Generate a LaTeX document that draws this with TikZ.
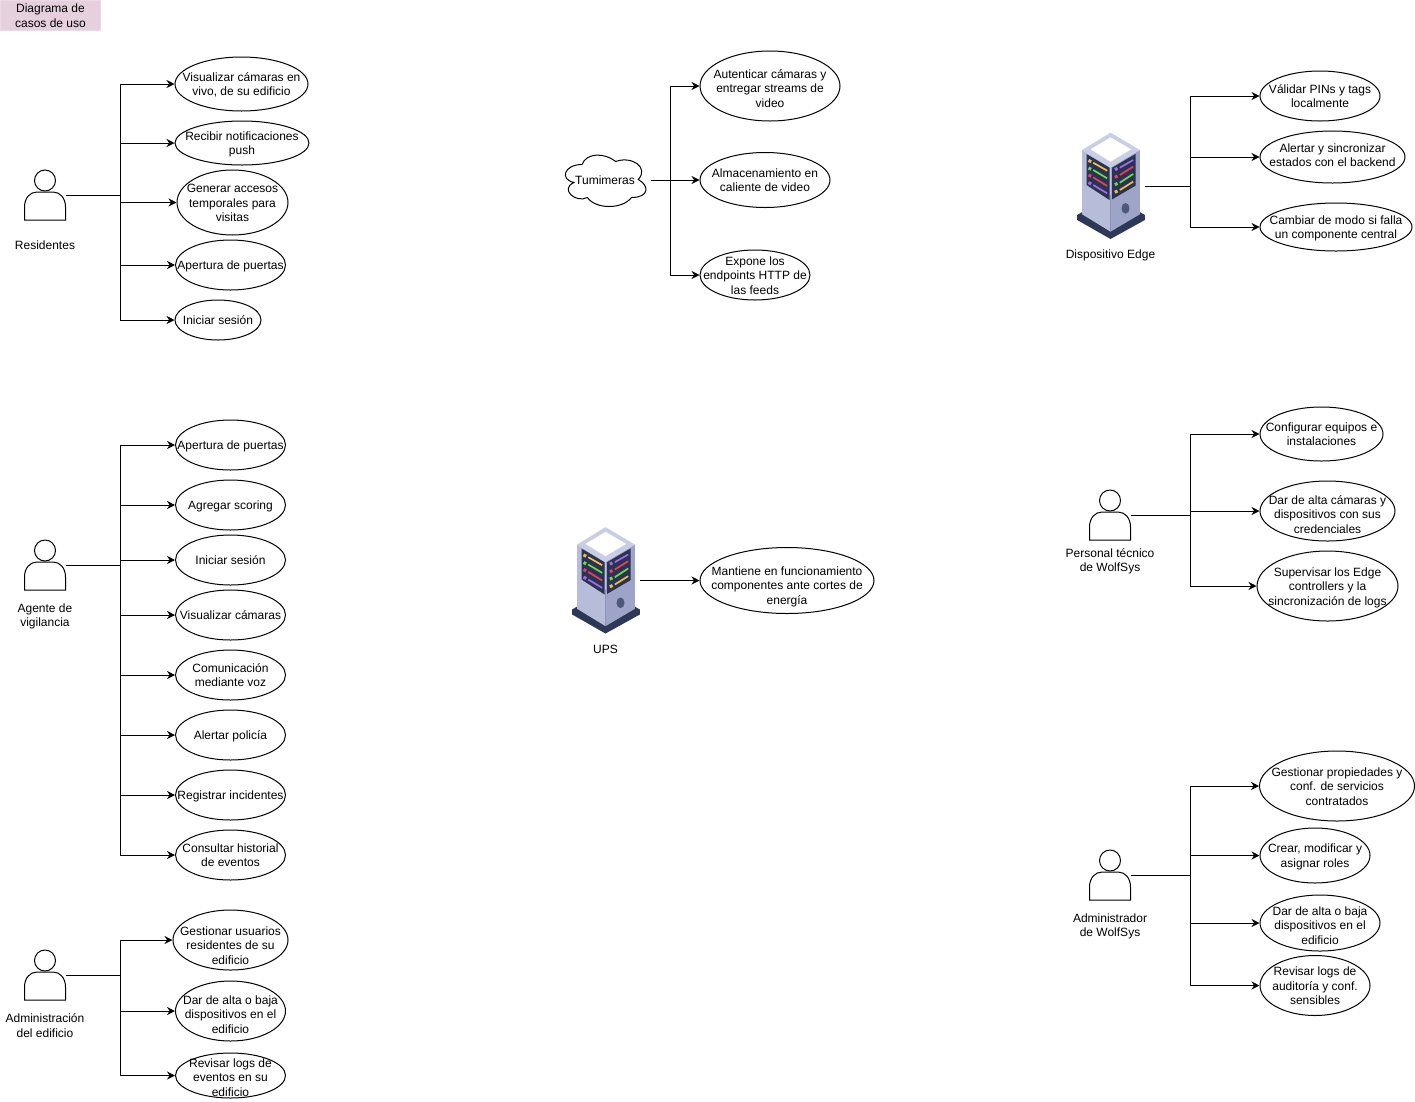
\documentclass[tikz,border=0pt]{standalone}
\usepackage{fontspec}
\setmainfont{Liberation Sans}
\usetikzlibrary{shapes.geometric,arrows.meta}

\definecolor{titlefill}{HTML}{E6D0DE}
\definecolor{basedark}{HTML}{2C3855}
\definecolor{faceleft}{HTML}{B7BCD9}
\definecolor{faceright}{HTML}{9DA4C8}
\definecolor{facetop}{HTML}{C9CEE4}
\definecolor{panel}{HTML}{2A3352}
\definecolor{stripyellow}{HTML}{F4BE45}
\definecolor{stripgreen}{HTML}{6FD94A}
\definecolor{stripred}{HTML}{E8415F}
\definecolor{strippurple}{HTML}{A36CE6}

\tikzstyle{usecase} = [ellipse, draw=black, fill=white, inner sep=-80pt, align=center, text depth=2.5pt, font=\fontsize{12}{14.5}\selectfont]
\tikzstyle{oneline} = [text height=11.5pt]
\tikzstyle{twolines} = [text height=26pt]
\tikzstyle{threelines} = [text height=40.5pt]
\tikzstyle{caption} = [align=center, inner sep=0pt, font=\fontsize{12}{14.5}\selectfont]
\tikzstyle{titlebox} = [rectangle, minimum width=100pt, minimum height=30pt, inner sep=0pt, align=center, draw=titlefill!80!white, fill=titlefill, font=\fontsize{12}{14.5}\selectfont]
\tikzstyle{actorbox} = [rectangle, minimum width=41pt, minimum height=50pt, inner sep=0pt]
\tikzstyle{iconbox} = [rectangle, minimum width=68pt, minimum height=106pt, inner sep=0pt]
\tikzstyle{cloudbox} = [rectangle, minimum width=90pt, minimum height=60pt, inner sep=0pt, font=\fontsize{12}{14.5}\selectfont]
\tikzstyle{arrow} = [->,>={Stealth[length=8pt,width=8pt]}]
\tikzstyle{strip} = [line width=1.7pt]
\tikzstyle{bullet} = [line width=3pt]

\tikzset{
	actorman/.pic={
		\draw [black, fill=white] (-20.5,25) -- (-20.5,12) .. controls (-20.5,3) and (-15,-3) .. (-8,-3) -- (8,-3) .. controls (15,-3) and (20.5,3) .. (20.5,12) -- (20.5,25) -- cycle;
		\draw [black, fill=white] (0,-14.5) circle [radius=10.5];
	},
	servericon/.pic={
		\begin{scope}[x=0.3333pt,y=-0.3333pt]
		\fill [basedark] (-100,87) -- (0,27) -- (103,87) -- (103,102) -- (0,159) -- (-100,102) -- cycle;
		\fill [faceleft] (-85,-108) -- (0,-56) -- (0,137) -- (-85,85) -- cycle;
		\fill [faceright] (0,-56) -- (88,-108) -- (88,85) -- (0,137) -- cycle;
		\fill [facetop] (0,-160) -- (88,-108) -- (0,-56) -- (-85,-108) -- cycle;
		\fill [white] (0,-146) -- (62,-110) -- (0,-73) -- (-60,-110) -- cycle;
		\fill [panel] (-72,-96) -- (-3,-55) -- (-3,42) -- (-72,-3) -- cycle;
		\fill [panel] (5,-55) -- (75,-96) -- (75,-1) -- (5,40) -- cycle;
		\fill [basedark!70!faceright] (45,67) ellipse [x radius=12, y radius=16];
		\draw [strip, stripyellow] (-52,-70) -- (-10,-46);
		\draw [strip, stripgreen] (-52,-48) -- (-10,-23);
		\draw [strip, stripred] (-52,-26) -- (-10,0);
		\draw [strip, strippurple] (-52,-3) -- (-10,22);
		\draw [bullet, stripyellow] (-66,-77) -- (-58,-73);
		\draw [bullet, stripgreen] (-66,-54) -- (-58,-50);
		\draw [bullet, stripred] (-66,-33) -- (-58,-29);
		\draw [bullet, strippurple] (-66,-10) -- (-58,-6);
		\draw [strip, strippurple] (28,-55) -- (68,-78);
		\draw [strip, stripred] (28,-33) -- (68,-58);
		\draw [strip, stripgreen] (28,-10) -- (68,-36);
		\draw [strip, stripyellow] (28,12) -- (68,-13);
		\draw [bullet, strippurple] (13,-49) -- (21,-53);
		\draw [bullet, stripred] (13,-26) -- (21,-30);
		\draw [bullet, stripgreen] (13,-4) -- (21,-8);
		\draw [bullet, stripyellow] (13,19) -- (21,15);
		\end{scope}
	}
}

\begin{document}
\begin{tikzpicture}[x=1pt, y=-1pt, node distance=50pt, line width=1pt]
	\useasboundingbox (0,0) rectangle (1415,1101);
	% Title
	\node [titlebox] (Titulo) at (50.5,15.5) {Diagrama de\\casos de uso};

	% Residentes
	\node [actorbox] (Residentes) at (45,195) {};
	\pic at (Residentes) {actorman};
	\node [caption, below of=Residentes, yshift=-0.5pt] (ResidentesLabel) {Residentes};
	\coordinate (ResidentesBus) at (120,195);
	\node [usecase, twolines, minimum width=133pt, minimum height=54pt] (ResVisualizar) at (241.5,84) {Visualizar cámaras en\\vivo, de su edificio};
	\node [usecase, twolines, minimum width=134pt, minimum height=44pt] (ResNotificaciones) at (242,143) {Recibir notificaciones\\push};
	\node [usecase, threelines, minimum width=111pt, minimum height=65pt] (ResAccesos) at (232.5,202.5) {Generar accesos\\temporales para\\visitas};
	\node [usecase, oneline, minimum width=110pt, minimum height=50pt] (ResApertura) at (230.5,265) {Apertura de puertas};
	\node [usecase, oneline, minimum width=86pt, minimum height=40pt] (ResSesion) at (218,320) {Iniciar sesión};

	% Agente de vigilancia
	\node [actorbox] (Agente) at (45,565) {};
	\pic at (Agente) {actorman};
	\node [caption, below of=Agente, yshift=-1.5pt] (AgenteLabel) {Agente de\\vigilancia};
	\coordinate (AgenteBus) at (120,565);
	\node [usecase, oneline, minimum width=110pt, minimum height=50pt] (AgApertura) at (230.5,445) {Apertura de puertas};
	\node [usecase, oneline, minimum width=110pt, minimum height=50pt] (AgScoring) at (230.5,505) {Agregar scoring};
	\node [usecase, oneline, minimum width=110pt, minimum height=50pt] (AgSesion) at (230.5,560) {Iniciar sesión};
	\node [usecase, oneline, minimum width=110pt, minimum height=50pt] (AgCamaras) at (230.5,615) {Visualizar cámaras};
	\node [usecase, twolines, minimum width=110pt, minimum height=50pt] (AgVoz) at (230.5,675) {Comunicación\\mediante voz};
	\node [usecase, oneline, minimum width=110pt, minimum height=50pt] (AgPolicia) at (230.5,735) {Alertar policía};
	\node [usecase, oneline, minimum width=110pt, minimum height=50pt] (AgIncidentes) at (230.5,795) {Registrar incidentes};
	\node [usecase, twolines, minimum width=110pt, minimum height=50pt] (AgHistorial) at (230.5,855) {Consultar historial\\de eventos};

	% Administracion del edificio
	\node [actorbox] (AdminEdificio) at (45,975) {};
	\pic at (AdminEdificio) {actorman};
	\node [caption, below of=AdminEdificio, yshift=-0.5pt] (AdminEdificioLabel) {Administración\\del edificio};
	\coordinate (AdminEdificioBus) at (120,975);
	\node [usecase, threelines, text height=50.5pt, minimum width=115pt, minimum height=60pt] (AeUsuarios) at (230.5,940) {Gestionar usuarios\\residentes de su\\edificio};
	\node [usecase, threelines, text height=46.5pt, minimum width=110pt, minimum height=60pt] (AeDispositivos) at (230.5,1011) {Dar de alta o baja\\dispositivos en el\\edificio};
	\node [usecase, threelines, text height=43.5pt, minimum width=110pt, minimum height=45pt] (AeLogs) at (230.5,1075.5) {Revisar logs de\\eventos en su\\edificio};

	% Tumimeras
	\node [cloudbox] (Tumimeras) at (605,180) {Tumimeras};
	\draw [shift={(Tumimeras.north west)}, x=90pt, y=-60pt] (0.25,0.25) .. controls (0.05,0.25) and (0,0.5) .. (0.16,0.55) .. controls (0,0.66) and (0.18,0.9) .. (0.31,0.8) .. controls (0.4,1) and (0.7,1) .. (0.8,0.8) .. controls (1,0.8) and (1,0.6) .. (0.875,0.5) .. controls (1,0.3) and (0.8,0.1) .. (0.625,0.2) .. controls (0.5,0.05) and (0.3,0.05) .. (0.25,0.25) -- cycle;
	\coordinate (TumimerasBus) at (670,180);
	\node [usecase, threelines, text height=44.5pt, minimum width=140pt, minimum height=70pt] (TuAutenticar) at (770,86) {Autenticar cámaras y\\entregar streams de\\video};
	\node [usecase, twolines, minimum width=130pt, minimum height=55pt] (TuAlmacenar) at (765,180) {Almacenamiento en\\caliente de video};
	\node [usecase, threelines, minimum width=110pt, minimum height=50pt] (TuEndpoints) at (755,275) {Expone los\\endpoints HTTP de\\las feeds};

	% UPS
	\node [iconbox] (Ups) at (605.5,580.5) {};
	\pic at (Ups) {servericon};
	\node [caption, below of=Ups, yshift=-19pt] (UpsLabel) {UPS};
	\node [usecase, threelines, text height=49.5pt, minimum width=174pt, minimum height=66pt] (UpsEnergia) at (787,580.5) {Mantiene en funcionamiento\\componentes ante cortes de\\energía};

	% Dispositivo Edge
	\node [iconbox] (Edge) at (1110.5,186) {};
	\pic at (Edge) {servericon};
	\node [caption, below of=Edge, yshift=-19pt] (EdgeLabel) {Dispositivo Edge};
	\coordinate (EdgeBus) at (1190,186);
	\node [usecase, twolines, minimum width=120pt, minimum height=50pt] (EdPines) at (1320,96) {Válidar PINs y tags\\localmente};
	\node [usecase, twolines, text depth=6.5pt, minimum width=145pt, minimum height=52pt] (EdEstados) at (1332.5,157) {Alertar y sincronizar\\estados con el backend};
	\node [usecase, twolines, minimum width=152pt, minimum height=48pt] (EdModo) at (1336,227) {Cambiar de modo si falla\\un componente central};

	% Personal tecnico de WolfSys
	\node [actorbox] (Tecnico) at (1110,515) {};
	\pic at (Tecnico) {actorman};
	\node [caption, below of=Tecnico, yshift=3.5pt] (TecnicoLabel) {Personal técnico\\de WolfSys};
	\coordinate (TecnicoBus) at (1190,515);
	\node [usecase, twolines, minimum width=123pt, minimum height=54pt] (TeEquipos) at (1321.5,434) {Configurar equipos e\\instalaciones};
	\node [usecase, threelines, text height=46.5pt, minimum width=135pt, minimum height=60pt] (TeCamaras) at (1327.5,511) {Dar de alta cámaras y\\dispositivos con sus\\credenciales};
	\node [usecase, threelines, minimum width=141pt, minimum height=70pt] (TeSupervisar) at (1327.5,586) {Supervisar los Edge\\controllers y la\\sincronización de logs};

	% Administrador de WolfSys
	\node [actorbox] (AdminWolf) at (1110,875) {};
	\pic at (AdminWolf) {actorman};
	\node [caption, below of=AdminWolf, yshift=-1.5pt] (AdminWolfLabel) {Administrador\\de WolfSys};
	\coordinate (AdminWolfBus) at (1190,875);
	\node [usecase, threelines, minimum width=155pt, minimum height=70pt] (AwPropiedades) at (1337,786) {Gestionar propiedades y\\conf. de servicios\\contratados};
	\node [usecase, twolines, minimum width=110pt, minimum height=55pt] (AwRoles) at (1315,855.5) {Crear, modificar y\\asignar roles};
	\node [usecase, threelines, text height=44.5pt, minimum width=120pt, minimum height=56pt] (AwDispositivos) at (1320,923) {Dar de alta o baja\\dispositivos en el\\edificio};
	\node [usecase, threelines, minimum width=110pt, minimum height=60pt] (AwLogs) at (1315,985.5) {Revisar logs de\\auditoría y conf.\\sensibles};

	% Draw edges
	\draw [arrow] (Residentes.east) -- (ResidentesBus) |- (ResVisualizar.west);
	\draw [arrow] (Residentes.east) -- (ResidentesBus) |- (ResNotificaciones.west);
	\draw [arrow] (Residentes.east) -- (ResidentesBus) |- (ResAccesos.west);
	\draw [arrow] (Residentes.east) -- (ResidentesBus) |- (ResApertura.west);
	\draw [arrow] (Residentes.east) -- (ResidentesBus) |- (ResSesion.west);

	\draw [arrow] (Agente.east) -- (AgenteBus) |- (AgApertura.west);
	\draw [arrow] (Agente.east) -- (AgenteBus) |- (AgScoring.west);
	\draw [arrow] (Agente.east) -- (AgenteBus) |- (AgSesion.west);
	\draw [arrow] (Agente.east) -- (AgenteBus) |- (AgCamaras.west);
	\draw [arrow] (Agente.east) -- (AgenteBus) |- (AgVoz.west);
	\draw [arrow] (Agente.east) -- (AgenteBus) |- (AgPolicia.west);
	\draw [arrow] (Agente.east) -- (AgenteBus) |- (AgIncidentes.west);
	\draw [arrow] (Agente.east) -- (AgenteBus) |- (AgHistorial.west);

	\draw [arrow] (AdminEdificio.east) -- (AdminEdificioBus) |- (AeUsuarios.west);
	\draw [arrow] (AdminEdificio.east) -- (AdminEdificioBus) |- (AeDispositivos.west);
	\draw [arrow] (AdminEdificio.east) -- (AdminEdificioBus) |- (AeLogs.west);

	\draw [arrow] (Tumimeras.east) -- (TumimerasBus) |- (TuAutenticar.west);
	\draw [arrow] (Tumimeras.east) -- (TuAlmacenar.west);
	\draw [arrow] (Tumimeras.east) -- (TumimerasBus) |- (TuEndpoints.west);

	\draw [arrow] (Ups.east) -- (UpsEnergia.west);

	\draw [arrow] (Edge.east) -- (EdgeBus) |- (EdPines.west);
	\draw [arrow] (Edge.east) -- (EdgeBus) |- (EdEstados.west);
	\draw [arrow] (Edge.east) -- (EdgeBus) |- (EdModo.west);

	\draw [arrow] (Tecnico.east) -- (TecnicoBus) |- (TeEquipos.west);
	\draw [arrow] (Tecnico.east) -- (TecnicoBus) |- (TeCamaras.west);
	\draw [arrow] (Tecnico.east) -- (TecnicoBus) |- (TeSupervisar.west);

	\draw [arrow] (AdminWolf.east) -- (AdminWolfBus) |- (AwPropiedades.west);
	\draw [arrow] (AdminWolf.east) -- (AdminWolfBus) |- (AwRoles.west);
	\draw [arrow] (AdminWolf.east) -- (AdminWolfBus) |- (AwDispositivos.west);
	\draw [arrow] (AdminWolf.east) -- (AdminWolfBus) |- (AwLogs.west);
\end{tikzpicture}
\end{document}
